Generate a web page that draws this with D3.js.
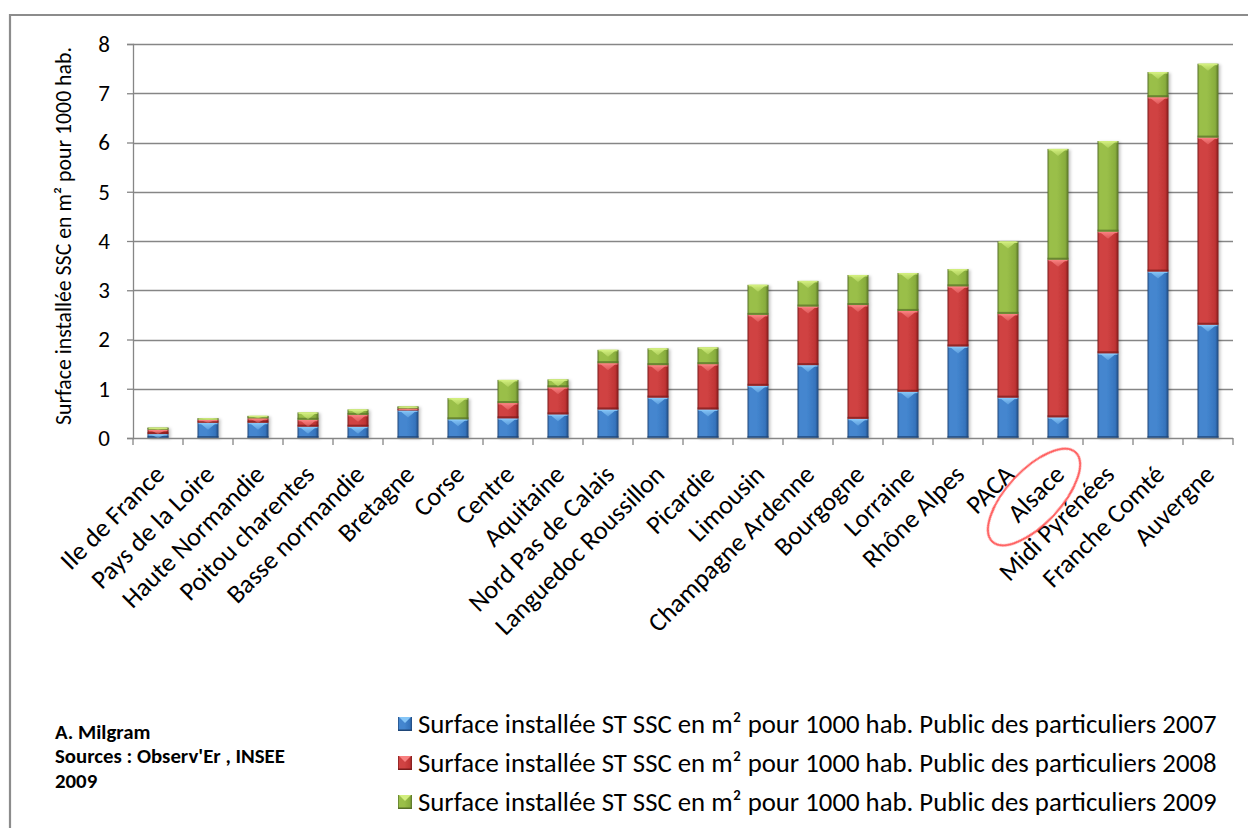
<!DOCTYPE html>
<html>
<head>
<meta charset="utf-8">
<script src="https://cdn.jsdelivr.net/npm/d3@7"></script>
<style>
  html, body { margin: 0; padding: 0; background: #fff; }
  svg { display: block; }
  text { font-family: Carlito, Calibri, Lato, "Open Sans", sans-serif; fill: #000; }
</style>
</head>
<body>
<svg id="chart" width="1248" height="828"></svg>
<script>
// Regions, sorted by total installed surface
const categories = [
  "Ile de France", "Pays de la Loire", "Haute Normandie", "Poitou charentes",
  "Basse normandie", "Bretagne", "Corse", "Centre", "Aquitaine",
  "Nord Pas de Calais", "Languedoc Roussillon", "Picardie", "Limousin",
  "Champagne Ardenne", "Bourgogne", "Lorraine", "Rhône Alpes", "PACA",
  "Alsace", "Midi Pyrénées", "Franche Comté", "Auvergne"
];

// m² per 1000 inhabitants installed each year (stacked)
const values2007 = [0.08, 0.31, 0.31, 0.23, 0.23, 0.56, 0.38, 0.40, 0.48, 0.58, 0.82,
                    0.58, 1.06, 1.48, 0.39, 0.94, 1.86, 0.82, 0.42, 1.72, 3.38, 2.30];
const values2008 = [0.09, 0.06, 0.09, 0.14, 0.24, 0.04, 0.00, 0.31, 0.55, 0.94, 0.66,
                    0.92, 1.44, 1.19, 2.31, 1.64, 1.22, 1.70, 3.20, 2.47, 3.54, 3.80];
const values2009 = [0.04, 0.03, 0.05, 0.15, 0.11, 0.04, 0.43, 0.47, 0.16, 0.27, 0.34,
                    0.34, 0.61, 0.52, 0.61, 0.77, 0.35, 1.47, 2.25, 1.84, 0.51, 1.50];

const seriesKeys = ["y2007", "y2008", "y2009"];
const seriesLabels = [
  "Surface installée ST SSC en m² pour 1000 hab. Public des particuliers 2007",
  "Surface installée ST SSC en m² pour 1000 hab. Public des particuliers 2008",
  "Surface installée ST SSC en m² pour 1000 hab. Public des particuliers 2009"
];
const yTicks = [0, 1, 2, 3, 4, 5, 6, 7, 8];
const yTitle = "Surface installée SSC en m² pour 1000 hab.";
const creditLines = ["A. Milgram", "Sources : Observ'Er , INSEE", "2009"];
const highlighted = "Alsace";

// Bevel palettes: body, dark edge, light highlight
const palette = {
  y2007: { base: "#3574bd", mid: "#4486cf", dark: "#1f4678", light: "#86c6f7" },
  y2008: { base: "#c03434", mid: "#d04343", dark: "#7a1b1b", light: "#f88080" },
  y2009: { base: "#88ad3d", mid: "#9abf49", dark: "#566f28", light: "#d2ee7e" }
};

const rows = categories.map((c, i) => ({
  category: c, y2007: values2007[i], y2008: values2008[i], y2009: values2009[i]
}));
const stacked = d3.stack().keys(seriesKeys)(rows);

const svg = d3.select("#chart");
const gray = "#868686";

const plot = { left: 133, right: 1233, top: 44, bottom: 438 };

const x = d3.scaleBand()
  .domain(categories)
  .range([plot.left, plot.right])
  .paddingInner(0.58)
  .paddingOuter(0.29);
const y = d3.scaleLinear().domain([0, 8]).range([plot.bottom, plot.top]);

// ---- defs: gradients and shadow
const defs = svg.append("defs");
seriesKeys.forEach(k => {
  const p = palette[k];
  const g = defs.append("linearGradient").attr("id", "body-" + k)
    .attr("x1", 0).attr("x2", 1).attr("y1", 0).attr("y2", 0);
  [[0, p.dark], [0.1, p.mid], [0.45, p.mid], [0.85, p.base], [1, p.dark]]
    .forEach(([o, c]) => g.append("stop").attr("offset", o).attr("stop-color", c));
  const t = defs.append("linearGradient").attr("id", "hi-" + k)
    .attr("x1", 0).attr("x2", 0).attr("y1", 0).attr("y2", 1);
  t.append("stop").attr("offset", 0).attr("stop-color", p.light).attr("stop-opacity", 1);
  t.append("stop").attr("offset", 1).attr("stop-color", p.light).attr("stop-opacity", 0.35);
});
const shadow = defs.append("filter").attr("id", "barShadow")
  .attr("x", "-30%").attr("y", "-5%").attr("width", "170%").attr("height", "115%");
shadow.append("feDropShadow").attr("dx", 2).attr("dy", 1).attr("stdDeviation", 1.8)
  .attr("flood-color", "#000").attr("flood-opacity", 0.22);

// ---- outer frame
svg.append("path")
  .attr("d", "M10,828 V15 H1248")
  .attr("fill", "none").attr("stroke", "#8c8c8c").attr("stroke-width", 2.2);

// ---- gridlines
svg.append("g").selectAll("line")
  .data(yTicks.filter(t => t > 0))
  .join("line")
  .attr("x1", plot.left).attr("x2", plot.right)
  .attr("y1", d => Math.round(y(d)) + 0.5).attr("y2", d => Math.round(y(d)) + 0.5)
  .attr("stroke", gray).attr("stroke-width", 1.3);

// ---- y axis
const yAxis = svg.append("g")
  .attr("transform", `translate(${plot.left},0)`)
  .call(d3.axisLeft(y).tickValues(yTicks).tickSize(6).tickPadding(17).tickFormat(d3.format("d")));
yAxis.select(".domain").attr("stroke", gray).attr("stroke-width", 1.3);
yAxis.selectAll(".tick line").attr("stroke", gray).attr("stroke-width", 1.3);
yAxis.selectAll(".tick text")
  .attr("font-family", "Carlito, Calibri, Lato, sans-serif")
  .attr("font-size", 23).attr("fill", "#000");

// ---- bars
const barLayer = svg.append("g").attr("filter", "url(#barShadow)");
stacked.forEach(layer => {
  const k = layer.key;
  const p = palette[k];
  const g = barLayer.append("g");
  const seg = g.selectAll("g.seg")
    .data(layer.filter(d => d[1] - d[0] > 0.0001))
    .join("g").attr("class", "seg");
  const bw = x.bandwidth();
  seg.append("rect")
    .attr("x", d => x(d.data.category))
    .attr("y", d => y(d[1]))
    .attr("width", bw)
    .attr("height", d => y(d[0]) - y(d[1]))
    .attr("fill", `url(#body-${k})`);
  // bottom bevel
  seg.append("rect")
    .attr("x", d => x(d.data.category))
    .attr("y", d => y(d[0]) - Math.min(2, y(d[0]) - y(d[1])))
    .attr("width", bw)
    .attr("height", d => Math.min(2, y(d[0]) - y(d[1])))
    .attr("fill", p.dark).attr("opacity", 0.7);
  // top bevel band
  seg.append("rect")
    .attr("x", d => x(d.data.category) + 1)
    .attr("y", d => y(d[1]))
    .attr("width", bw - 2)
    .attr("height", d => Math.min(1.5, y(d[0]) - y(d[1])))
    .attr("fill", p.light).attr("opacity", 0.9);
  // top chevron highlight
  seg.append("path")
    .attr("d", d => {
      const x0 = x(d.data.category), yt = y(d[1]);
      const h = Math.min(7, y(d[0]) - y(d[1]));
      return `M${x0 + 2},${yt} L${x0 + bw - 2},${yt} L${x0 + bw / 2},${yt + h} Z`;
    })
    .attr("fill", `url(#hi-${k})`);
});

// ---- x axis line and ticks at category boundaries
const step = x.step();
const boundaries = categories.map(c => x(c) + x.bandwidth() / 2 - step / 2)
  .concat([x(categories[categories.length - 1]) + x.bandwidth() / 2 + step / 2]);
svg.append("line")
  .attr("x1", plot.left).attr("x2", plot.right)
  .attr("y1", plot.bottom + 0.5).attr("y2", plot.bottom + 0.5)
  .attr("stroke", gray).attr("stroke-width", 1.3);
svg.append("g").selectAll("line").data(boundaries).join("line")
  .attr("x1", d => d).attr("x2", d => d)
  .attr("y1", plot.bottom).attr("y2", plot.bottom + 7)
  .attr("stroke", gray).attr("stroke-width", 1.3);

// ---- rotated category labels
const xLabels = svg.append("g").selectAll("text").data(categories).join("text")
  .attr("text-anchor", "end")
  .attr("font-size", 21)
  .text(d => d);
// size the labels so "Rhône Alpes" runs about 132px along its slant
const refLabel = xLabels.filter(d => d === "Rhône Alpes");
const labelFont = 21 * 132 / refLabel.node().getComputedTextLength();
xLabels.attr("font-size", labelFont)
  .attr("transform", d => `translate(${x(d) + x.bandwidth() / 2 + 8},${plot.bottom + 38}) rotate(-45)`);

// highlight ring around one region label
const hx = x(highlighted) + x.bandwidth() / 2;
svg.append("ellipse")
  .attr("transform", `translate(${hx - 24},${plot.bottom + 59}) rotate(-47)`)
  .attr("rx", 61).attr("ry", 27)
  .attr("fill", "none").attr("stroke", "#ff4d4d").attr("stroke-width", 2.2)
  .attr("opacity", 0.9);

// ---- y axis title
const yt = svg.append("text")
  .attr("transform", `translate(71,236) rotate(-90)`)
  .attr("text-anchor", "middle")
  .attr("font-size", 21)
  .text(yTitle);
fitWidth(yt, 378);

// ---- legend
const legend = svg.append("g");
const legendRows = [724, 763, 802];
seriesKeys.forEach((k, i) => {
  const p = palette[k];
  const cy = legendRows[i];
  const m = legend.append("g");
  m.append("rect").attr("x", 398).attr("y", cy - 7).attr("width", 14).attr("height", 14)
    .attr("fill", `url(#body-${k})`);
  m.append("path").attr("d", `M399,${cy - 7} L411,${cy - 7} L405,${cy - 1} Z`)
    .attr("fill", p.light);
  m.append("rect").attr("x", 398).attr("y", cy + 5.5).attr("width", 14).attr("height", 1.5)
    .attr("fill", p.dark);
  const t = legend.append("text")
    .attr("x", 418).attr("y", cy).attr("dy", "0.35em")
    .attr("font-size", 21)
    .text(seriesLabels[i]);
  fitWidth(t, 799);
});

// ---- credits
const credits = svg.append("g");
creditLines.forEach((line, i) => {
  credits.append("text")
    .attr("x", 55).attr("y", [732, 756, 781][i]).attr("dy", "0.35em")
    .attr("font-size", 16).attr("font-weight", "bold")
    .text(line);
});
const creditTexts = credits.selectAll("text");
const wide = creditTexts.filter((d, i) => i === 1);
const scale = 230 / wide.node().getComputedTextLength();
creditTexts.attr("font-size", 16 * scale);

function fitWidth(sel, target) {
  const len = sel.node().getComputedTextLength();
  const fs = parseFloat(sel.attr("font-size"));
  sel.attr("font-size", fs * target / len);
}
</script>
</body>
</html>
